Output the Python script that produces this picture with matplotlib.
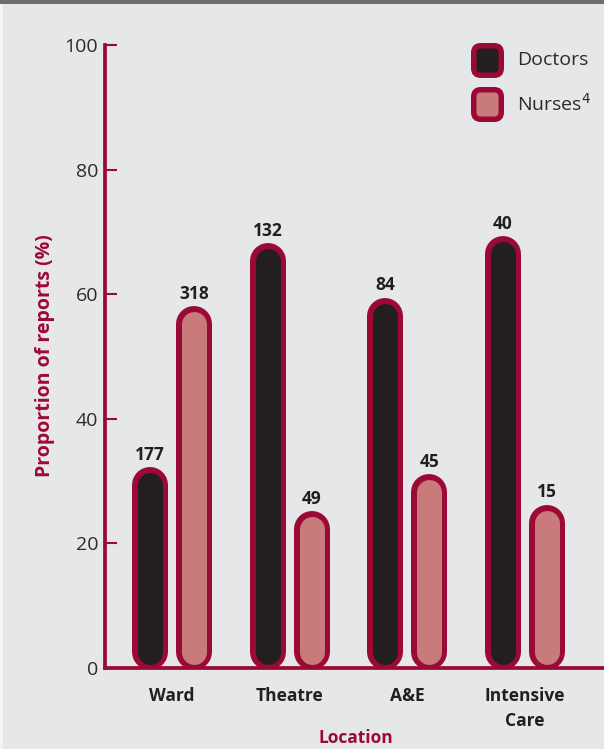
import matplotlib.pyplot as plt
from matplotlib.patches import Rectangle, FancyBboxPatch
from matplotlib.transforms import IdentityTransform
import matplotlib.patheffects as pe
import numpy as np

plt.rcParams['font.family'] = ['Open Sans', 'DejaVu Sans']

locations = ['Ward', 'Theatre', 'A&E', 'Intensive\nCare']
doctors_pct = [32.2, 68.2, 59.4, 69.3]
nurses_pct = [58.1, 25.2, 31.1, 26.2]
doctors_n = [177, 132, 84, 40]
nurses_n = [318, 49, 45, 15]
series_names = ['Doctors', 'Nurses$^{4}$']

bg = '#e6e7e8'
red = '#9b0a34'
dark = '#231f20'
pink = '#c97b7b'

W, H = 604, 749
fig = plt.figure(figsize=(W / 100, H / 100), dpi=100, facecolor=bg)
ax = fig.add_axes([105 / W, (H - 668) / H, 1 - 105 / W, (668 - 45) / H])
ax.set_facecolor(bg)
ax.set_ylim(0, 100)
ax.set_xlim(-0.572, 3.673)

# bar geometry in pixels
outer_w = 36.0
border = 5.5
px_per_unit = ax.bbox.height / 100.0
r = outer_w / 2 / px_per_unit

x = np.arange(len(locations))
offset = 0.188

def pill(xc, v, fill):
    ln, = ax.plot([xc, xc], [r - 0.4, v - r], color=fill,
                  lw=(outer_w - 2 * border) * 0.72, solid_capstyle='round',
                  zorder=3)
    ln.set_path_effects([pe.Stroke(linewidth=outer_w * 0.72, foreground=red,
                                   capstyle='round'), pe.Normal()])

for i in range(len(locations)):
    for xc, v, n, c in [(x[i] - offset, doctors_pct[i], doctors_n[i], dark),
                        (x[i] + offset, nurses_pct[i], nurses_n[i], pink)]:
        pill(xc, v, c)
        ax.annotate(str(n), (xc, v), xytext=(0, 2.5), textcoords='offset points',
                    ha='center', va='bottom', fontsize=12.5, fontweight='bold',
                    color=dark)

for s in ['top', 'right']:
    ax.spines[s].set_visible(False)
for s in ['left', 'bottom']:
    ax.spines[s].set_color(red)
    ax.spines[s].set_linewidth(2.7)
    ax.spines[s].set_zorder(4)

ax.set_yticks([0, 20, 40, 60, 80, 100])
ax.tick_params(axis='y', direction='in', length=8.6, width=1.5, color=red,
               labelsize=14, labelcolor='#2b2b2b', pad=5)
ax.set_xticks(x)
ax.set_xticklabels(locations, fontsize=12.5, fontweight='bold', color=dark,
                   linespacing=1.45, va='top')
ax.tick_params(axis='x', length=0, pad=14)

fig.text(45 / W, (H - 356) / H, 'Proportion of reports (%)', rotation=90,
         ha='center', va='center', fontsize=14, fontweight='bold', color=red)
fig.text(356 / W, (H - 738) / H, 'Location', ha='center', va='center',
         fontsize=12.5, fontweight='bold', color=red)

# legend
for (top, fill, name) in [(43, dark, series_names[0]), (87, pink, series_names[1])]:
    box = FancyBboxPatch((471 + border / 2, H - top - 35 + border / 2),
                         33 - border, 35 - border,
                         boxstyle='round,pad=0,rounding_size=7',
                         transform=IdentityTransform(), facecolor=fill,
                         edgecolor=red, lw=border * 0.72)
    fig.add_artist(box)
    fig.text(517 / W, (H - top - 17) / H, name, ha='left', va='center',
             fontsize=14, color='#2b2b2b')

# frame decorations
fig.add_artist(Rectangle((0, H - 4), W, 4, transform=IdentityTransform(),
                         facecolor='#6d6e70', edgecolor='none'))
fig.add_artist(Rectangle((0, 0), 3, H - 4, transform=IdentityTransform(),
                         facecolor='#f4f4f4', edgecolor='none'))

fig.savefig('out.png', dpi=100, facecolor=bg)
